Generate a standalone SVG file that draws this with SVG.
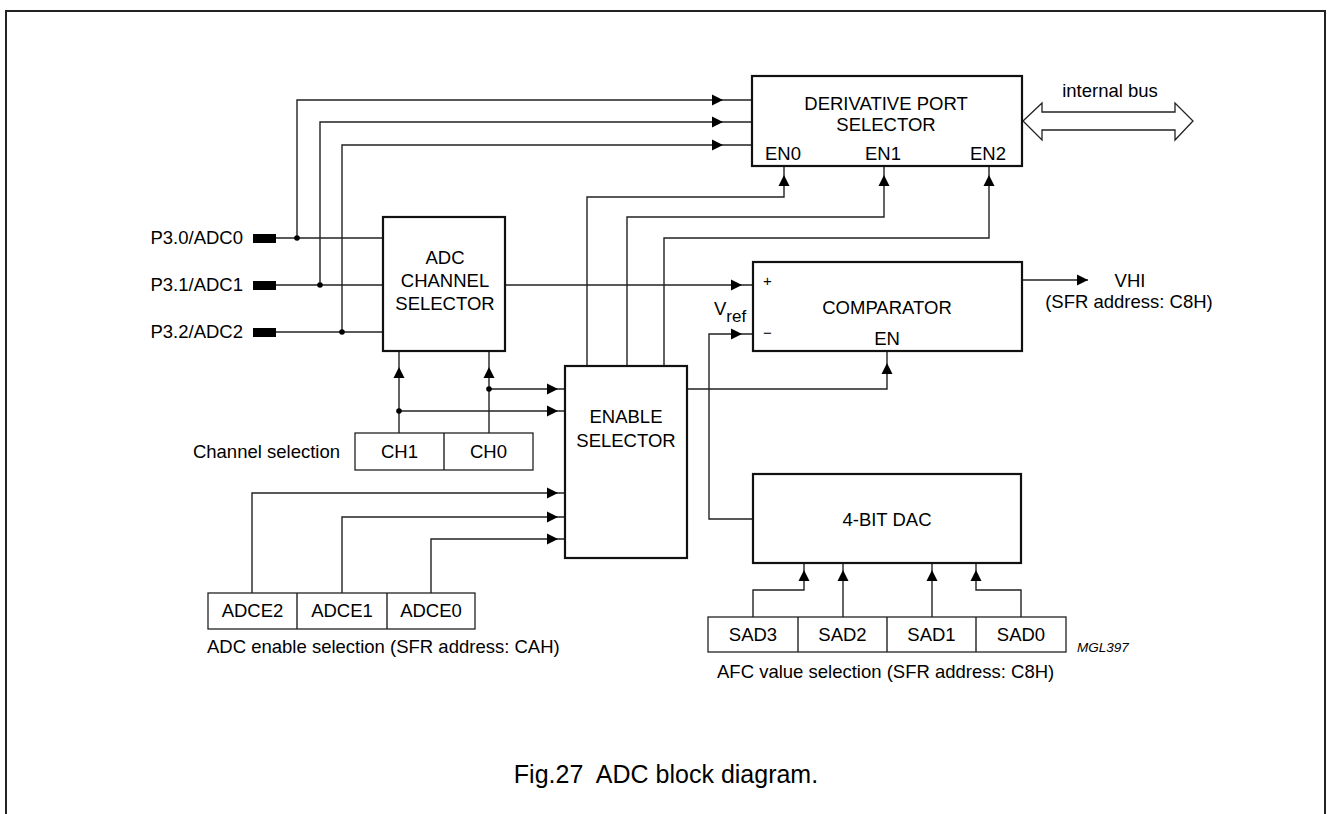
<svg xmlns="http://www.w3.org/2000/svg" xmlns:xlink="http://www.w3.org/1999/xlink" width="1327" height="814" viewBox="0 0 1327 814">
<style>
text{font-family:"Liberation Sans",Arial,sans-serif;font-size:18.5px;fill:#000}
.c{text-anchor:middle}
.e{text-anchor:end}
.blk{fill:#fff;stroke:#111;stroke-width:2.2}
.reg{fill:#fff;stroke:#222;stroke-width:1.3}
.ln{fill:none;stroke:#222;stroke-width:1.4}
.ah{fill:#000}
.dot{fill:#000}
.pin{fill:#000}
</style>
<defs>
<path id="ah" d="M0,0 L-11,-5.5 L-11,5.5 Z"/>
</defs>
<rect width="1327" height="814" fill="#fff"/>
<path d="M6,814 V11 H1325 V814" fill="none" stroke="#222" stroke-width="2"/>

<g id="connectors">
<path class="ln" d="M297,238 V100 H752"/>
<path class="ln" d="M320,285 V122 H752"/>
<path class="ln" d="M342,332 V145 H752"/>
<path class="ln" d="M276,238 H383"/>
<path class="ln" d="M276,285 H383"/>
<path class="ln" d="M276,332 H383"/>
<path class="ln" d="M505,285 H753"/>
<path class="ln" d="M587,366 V197 H784 V166"/>
<path class="ln" d="M627,366 V217 H884 V166"/>
<path class="ln" d="M664,366 V238 H989 V166"/>
<path class="ln" d="M687,389 H887 V351"/>
<path class="ln" d="M1022,280 H1088"/>
<path class="ln" d="M753,519 H709 V334 H753"/>
<path class="ln" d="M399,433 V351"/>
<path class="ln" d="M489,433 V351"/>
<path class="ln" d="M399,411 H565"/>
<path class="ln" d="M489,389 H565"/>
<path class="ln" d="M252,593 V493 H565"/>
<path class="ln" d="M342,593 V517 H565"/>
<path class="ln" d="M431,593 V539 H565"/>
<path class="ln" d="M753,617 V590 H804 V563"/>
<path class="ln" d="M843,617 V563"/>
<path class="ln" d="M932,617 V563"/>
<path class="ln" d="M1021,617 V590 H976 V563"/>
<circle class="dot" cx="297" cy="238" r="2.8"/>
<circle class="dot" cx="320" cy="285" r="2.8"/>
<circle class="dot" cx="342" cy="332" r="2.8"/>
<circle class="dot" cx="399" cy="411" r="2.8"/>
<circle class="dot" cx="489" cy="389" r="2.8"/>
<use class="ah" xlink:href="#ah" transform="translate(723,100)"/>
<use class="ah" xlink:href="#ah" transform="translate(723,122)"/>
<use class="ah" xlink:href="#ah" transform="translate(723,145)"/>
<use class="ah" xlink:href="#ah" transform="translate(742,285)"/>
<use class="ah" xlink:href="#ah" transform="translate(742,334)"/>
<use class="ah" xlink:href="#ah" transform="translate(1088,280)"/>
<use class="ah" xlink:href="#ah" transform="translate(558,389)"/>
<use class="ah" xlink:href="#ah" transform="translate(558,411)"/>
<use class="ah" xlink:href="#ah" transform="translate(558,493)"/>
<use class="ah" xlink:href="#ah" transform="translate(558,517)"/>
<use class="ah" xlink:href="#ah" transform="translate(558,539)"/>
<use class="ah" xlink:href="#ah" transform="translate(784,175) rotate(-90)"/>
<use class="ah" xlink:href="#ah" transform="translate(884,175) rotate(-90)"/>
<use class="ah" xlink:href="#ah" transform="translate(989,175) rotate(-90)"/>
<use class="ah" xlink:href="#ah" transform="translate(887,363) rotate(-90)"/>
<use class="ah" xlink:href="#ah" transform="translate(399,367) rotate(-90)"/>
<use class="ah" xlink:href="#ah" transform="translate(489,367) rotate(-90)"/>
<use class="ah" xlink:href="#ah" transform="translate(804,570) rotate(-90)"/>
<use class="ah" xlink:href="#ah" transform="translate(843,570) rotate(-90)"/>
<use class="ah" xlink:href="#ah" transform="translate(932,570) rotate(-90)"/>
<use class="ah" xlink:href="#ah" transform="translate(976,570) rotate(-90)"/>
<polygon points="1023,121 1042,103 1042,112 1175,112 1175,103 1193,121 1175,140 1175,130 1042,130 1042,140" fill="#fff" stroke="#222" stroke-width="1.3"/>
<text class="c" x="1110" y="97">internal bus</text>
</g>

<g id="pins">
<rect class="pin" x="253" y="234" width="23" height="9"/>
<rect class="pin" x="253" y="281" width="23" height="9"/>
<rect class="pin" x="253" y="328" width="23" height="9"/>
<text class="e" x="243" y="244">P3.0/ADC0</text>
<text class="e" x="243" y="291">P3.1/ADC1</text>
<text class="e" x="243" y="338">P3.2/ADC2</text>
</g>

<g id="derivative-port-selector">
<rect class="blk" x="752" y="76" width="270" height="90"/>
<text class="c" x="886" y="110">DERIVATIVE PORT</text>
<text class="c" x="886" y="131">SELECTOR</text>
<text class="c" x="783" y="160">EN0</text>
<text class="c" x="883" y="160">EN1</text>
<text class="c" x="988" y="160">EN2</text>
</g>

<g id="adc-channel-selector">
<rect class="blk" x="383" y="217" width="122" height="134"/>
<text class="c" x="445" y="264">ADC</text>
<text class="c" x="445" y="287">CHANNEL</text>
<text class="c" x="445" y="310">SELECTOR</text>
</g>

<g id="comparator">
<rect class="blk" x="753" y="262" width="269" height="89"/>
<text x="763" y="286" style="font-size:15px">+</text>
<text x="763" y="338" style="font-size:15px">−</text>
<text class="c" x="887" y="314">COMPARATOR</text>
<text class="c" x="887" y="345">EN</text>
<text x="714" y="315">V<tspan dy="7" style="font-size:17px">ref</tspan></text>
<text class="c" x="1130" y="287">VHI</text>
<text class="c" x="1129" y="308">(SFR address: C8H)</text>
</g>

<g id="enable-selector">
<rect class="blk" x="565" y="366" width="122" height="192"/>
<text class="c" x="626" y="423">ENABLE</text>
<text class="c" x="626" y="447">SELECTOR</text>
</g>

<g id="dac">
<rect class="blk" x="753" y="474" width="268" height="89"/>
<text class="c" x="887" y="526">4-BIT DAC</text>
</g>

<g id="channel-selection">
<rect class="reg" x="355" y="433" width="178" height="37"/>
<line class="ln" x1="444" y1="433" x2="444" y2="470"/>
<text class="c" x="399.5" y="458">CH1</text>
<text class="c" x="488.5" y="458">CH0</text>
<text class="e" x="340" y="458">Channel selection</text>
</g>

<g id="adc-enable-selection">
<rect class="reg" x="208" y="593" width="267" height="36"/>
<line class="ln" x1="297" y1="593" x2="297" y2="629"/>
<line class="ln" x1="387" y1="593" x2="387" y2="629"/>
<text class="c" x="252.5" y="617">ADCE2</text>
<text class="c" x="342" y="617">ADCE1</text>
<text class="c" x="431" y="617">ADCE0</text>
<text x="207" y="653">ADC enable selection (SFR address: CAH)</text>
</g>

<g id="afc-value-selection">
<rect class="reg" x="708" y="617" width="358" height="35"/>
<line class="ln" x1="798" y1="617" x2="798" y2="652"/>
<line class="ln" x1="887" y1="617" x2="887" y2="652"/>
<line class="ln" x1="976" y1="617" x2="976" y2="652"/>
<text class="c" x="753" y="641">SAD3</text>
<text class="c" x="842.5" y="641">SAD2</text>
<text class="c" x="931.5" y="641">SAD1</text>
<text class="c" x="1021" y="641">SAD0</text>
<text x="1077" y="652" style="font-size:13.5px;font-style:italic">MGL397</text>
<text x="717" y="678">AFC value selection (SFR address: C8H)</text>
</g>

<g id="caption">
<text class="c" x="666" y="783" style="font-size:25px" xml:space="preserve">Fig.27  ADC block diagram.</text>
</g>
</svg>
